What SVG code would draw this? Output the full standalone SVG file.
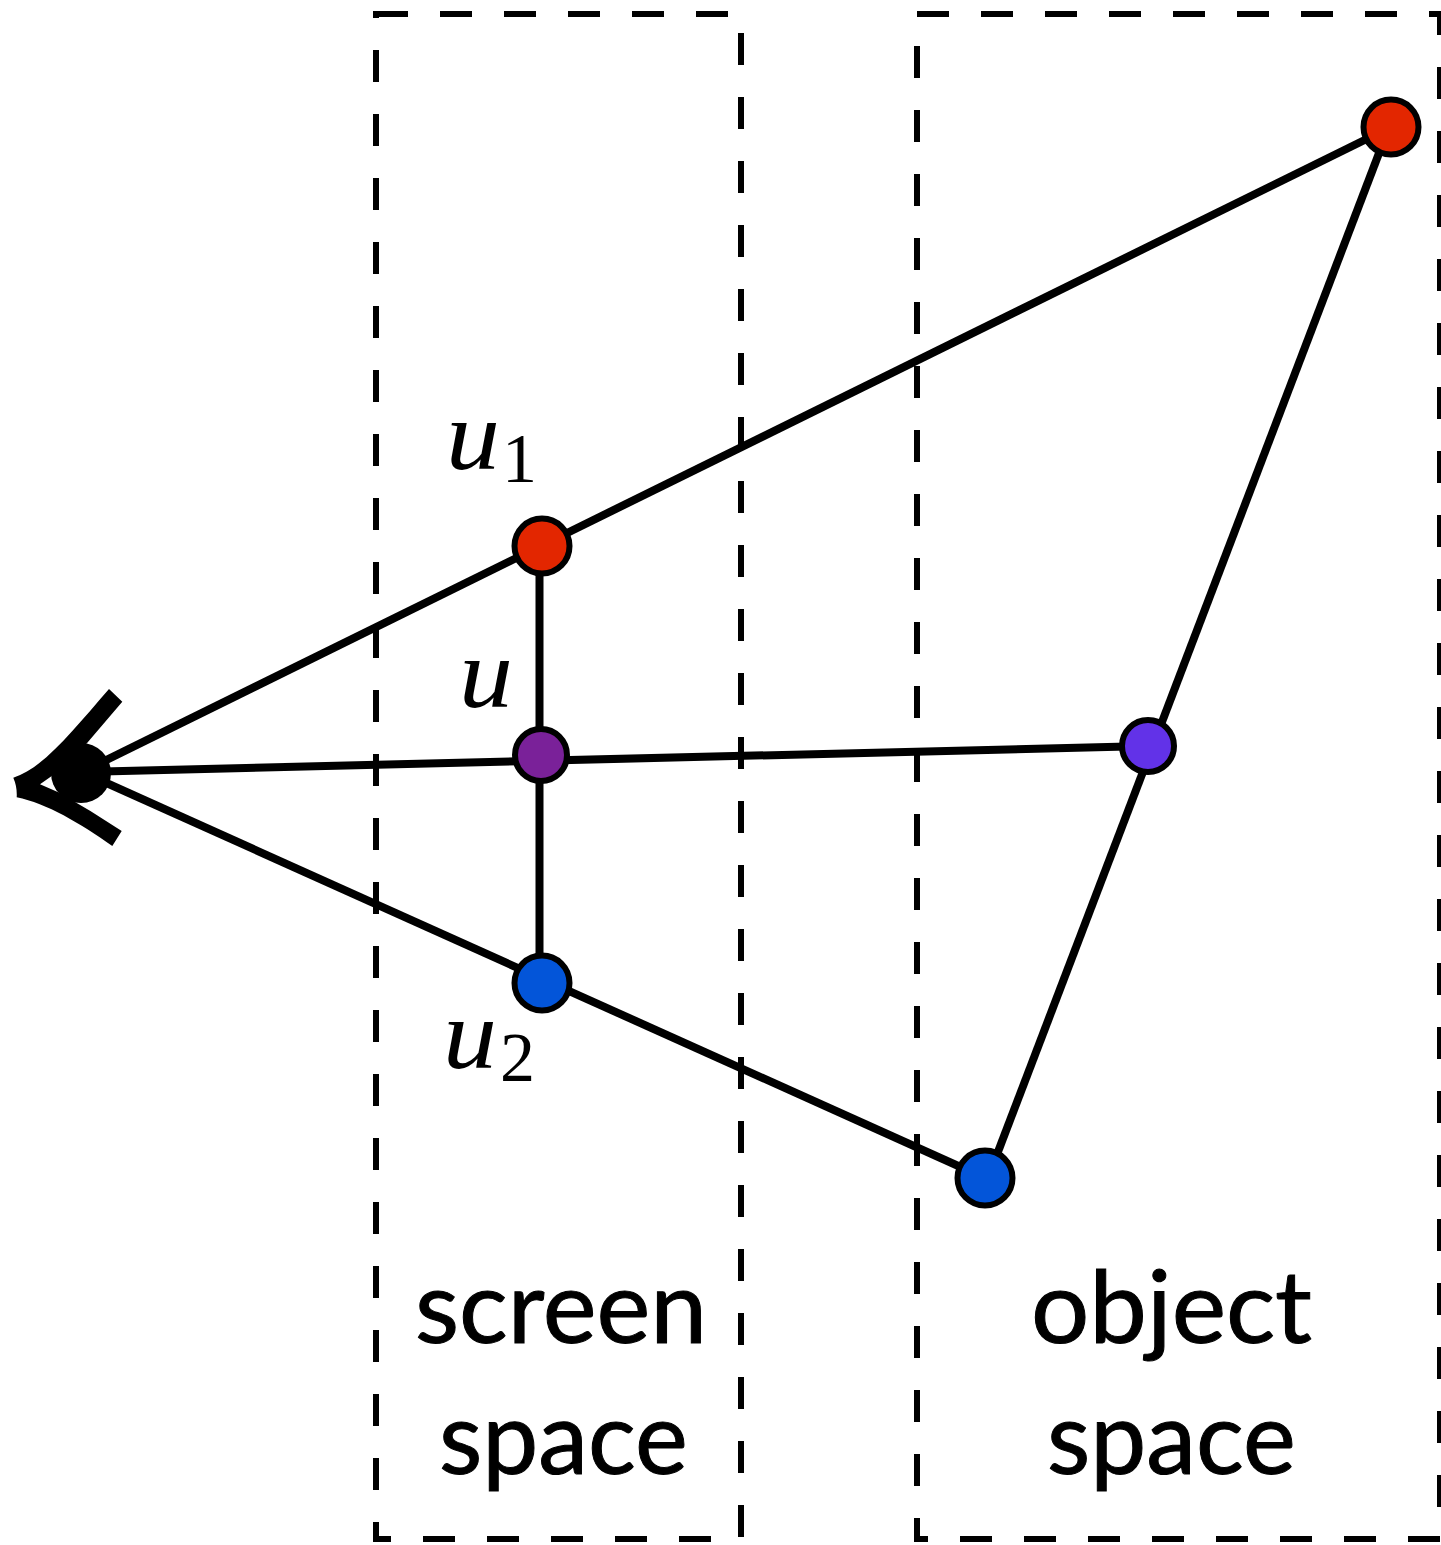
<svg xmlns="http://www.w3.org/2000/svg" width="1441" height="1545" viewBox="0 0 1441 1545">
<style>
.region{fill:none;stroke:#000;stroke-width:6;stroke-dasharray:32 32}
.edge{fill:none;stroke:#000;stroke-width:8}
.pt{stroke:#000;stroke-width:6}
.label{font-family:"Lato","Open Sans",sans-serif;font-size:100px;fill:#000;stroke:#000;stroke-width:1;text-anchor:start}
.math{font-family:"Liberation Serif",serif;font-style:italic;font-size:100px;fill:#000}
.sub{font-family:"Liberation Serif",serif;font-size:70px;fill:#000}
</style>
<rect width="1441" height="1545" fill="#fff"/>
<g id="regions">
<rect id="screen-region" class="region" x="376" y="14" width="365" height="1525"/>
<rect id="object-region" class="region" x="917" y="14" width="523" height="1525"/>
</g>
<g id="connectors">
<line class="edge" x1="82" y1="772" x2="1391" y2="127"/>
<line class="edge" x1="82" y1="772" x2="1148" y2="746"/>
<line class="edge" x1="82" y1="772" x2="985" y2="1178"/>
<line class="edge" x1="539.5" y1="545" x2="539.5" y2="982"/>
<line class="edge" x1="1389" y1="127" x2="988" y2="1178"/>
</g>
<g id="eye">
<circle cx="81" cy="773" r="30" fill="#000"/>
<path fill="#000" d="M109,689 L122.3,701.7 L87.3,742.7 L50.7,776.7 L40,784.3 L58.3,792.3 Q90,810 121.7,831 L112.3,846 C80,823.3 46.7,803.3 16.7,797.3 Q17.3,786.7 13.3,777.7 C43.3,768.3 73.3,730 109,689 Z"/>
</g>
<g id="node-object-top"><circle class="pt" cx="1391" cy="127" r="27.5" fill="#e32600"/></g>
<g id="node-u1"><circle class="pt" cx="542" cy="546" r="27.5" fill="#e32600"/></g>
<g id="node-u"><circle class="pt" cx="541" cy="755" r="26" fill="#7a2199"/></g>
<g id="node-u2"><circle class="pt" cx="542" cy="983" r="27.5" fill="#0355d9"/></g>
<g id="node-object-bottom"><circle class="pt" cx="985" cy="1178" r="27.5" fill="#0355d9"/></g>
<g id="node-object-mid"><circle class="pt" cx="1148" cy="746" r="26" fill="#6232e8"/></g>
<g id="labels">
<text class="math" x="446" y="469" textLength="54" lengthAdjust="spacingAndGlyphs">u</text><text class="sub" x="502" y="482">1</text>
<text class="math" x="459" y="707" textLength="54" lengthAdjust="spacingAndGlyphs">u</text>
<text class="math" x="443" y="1068" textLength="54" lengthAdjust="spacingAndGlyphs">u</text><text class="sub" x="500" y="1081">2</text>
<text class="label" x="415" y="1343" textLength="292" lengthAdjust="spacingAndGlyphs">screen</text>
<text class="label" x="439" y="1474">space</text>
<text class="label" x="1031" y="1343" textLength="281" lengthAdjust="spacingAndGlyphs">object</text>
<text class="label" x="1047" y="1474">space</text>
</g>
</svg>
